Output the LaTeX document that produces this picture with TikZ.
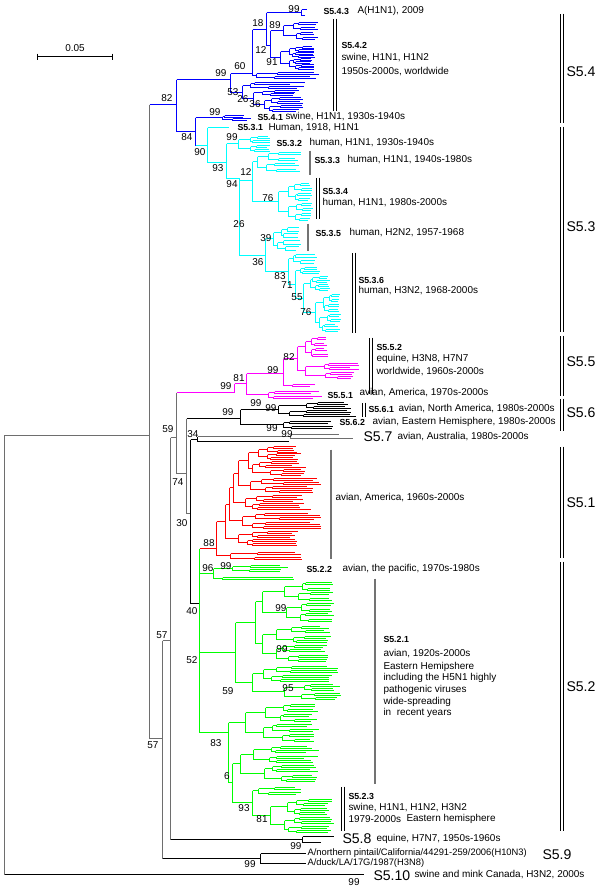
\documentclass[tikz,border=0pt]{standalone}
\usepackage{fontspec}
\setmainfont{Liberation Sans}
\usetikzlibrary{positioning}
\definecolor{trunk}{RGB}{110,110,110}
\definecolor{barg}{RGB}{115,115,115}
\definecolor{s54}{RGB}{0,0,255}
\definecolor{s53}{RGB}{0,255,255}
\definecolor{s55}{RGB}{255,0,255}
\definecolor{s51}{RGB}{255,0,0}
\definecolor{s52}{RGB}{0,255,0}

% clade segments are collected in \cladepath and drawn in one go
\newcommand{\addseg}[4]{\xdef\cladepath{\cladepath (#1,#2) -- (#3,#4)}}
% clade: x, centre y, half height, depth, tip x
\newcommand{\clade}[5]{%
  \begingroup
  \ifnum#4>0
    \pgfmathsetmacro\cA{round(#2-#3/2)}%
    \pgfmathsetmacro\cB{round(#2+#3/2)}%
    \pgfmathsetmacro\xA{round(#1+(#5-#1)*(0.08+0.3*rnd))}%
    \pgfmathsetmacro\xB{round(#1+(#5-#1)*(0.08+0.3*rnd))}%
    \pgfmathsetmacro\hh{#3/2}%
    \pgfmathtruncatemacro\dd{#4-1}%
    \addseg{#1}{\cA}{#1}{\cB}\addseg{#1}{\cA}{\xA}{\cA}\addseg{#1}{\cB}{\xB}{\cB}%
    \edef\cladeA{\noexpand\clade{\xA}{\cA}{\hh}{\dd}{#5}}%
    \edef\cladeB{\noexpand\clade{\xB}{\cB}{\hh}{\dd}{#5}}%
    \cladeA\cladeB
  \else
    \pgfmathsetmacro\xE{round(#5-(#5-#1)*0.45*rnd)}%
    \addseg{#1}{#2}{\xE}{#2}%
  \fi
  \endgroup}

\begin{document}
\begin{tikzpicture}[
  x=0.3mm, y=-0.3mm, line width=0.3mm,
  hue/.style={draw=#1, line width=0.42mm},
  lab/.style={font=\fontsize{8.5}{10}\selectfont, anchor=west, inner sep=0pt},
  tag/.style={font=\bfseries\fontsize{7.5}{9}\selectfont, anchor=west, inner sep=0pt},
  big/.style={font=\fontsize{12}{14}\selectfont, anchor=west, inner sep=0pt},
  bs/.style={font=\fontsize{8.5}{10}\selectfont, inner sep=0pt},
  bar/.style={draw=black, double=white, double distance=0.6mm, line width=0.3mm},
  gbar/.style={draw=barg, line width=0.6mm}
]
\useasboundingbox (0,0) rectangle (600,890);
\pgfmathsetseed{11}

\begin{scope}[shift={(0.5,0.5)}]
% scale
\draw[black] (37,56) -- (112,56) (37,53) -- (37,59) (112,53) -- (112,59);

% trunk
\draw[trunk] (4,874) -- (4,435) -- (149,435)
  (149,104) -- (149,738) -- (162,738)
  (162,640) -- (162,858) (162,640) -- (170,640)
  (170,437) -- (170,839) (170,437) -- (176,437)
  (176,392) -- (176,473) -- (186,473)
  (186,418) -- (186,513) -- (190,513)
  (197,436) -- (290,436) (290,434) -- (290,438) (290,434) -- (338,434) (290,438) -- (352,438);

% S5.4
\gdef\cladepath{}
\clade{283}{30}{10}{3}{318}
\clade{280}{57}{12}{4}{314}
\clade{256}{75}{4}{2}{322}
\clade{250}{85}{4}{2}{305}
\clade{262}{92}{3}{2}{300}
\clade{264}{104}{8}{3}{306}
\clade{222}{117}{3}{2}{252}
\draw[hue=s54] (149,104) -- (176,104) (176,79) -- (176,131)
  (176,79) -- (230,79) (230,73) -- (230,92)
  (230,73) -- (252,73) (252,29) -- (252,75)
  (252,29) -- (266,29) (266,12) -- (266,45)
  (266,12) -- (301,12) (301,9) -- (301,15) (301,9) -- (306,9) (301,15) -- (304,15)
  (266,45) -- (270,45) (270,30) -- (270,57)
  (270,30) -- (283,30) (270,57) -- (280,57) (252,75) -- (256,75)
  (230,92) -- (242,92) (242,85) -- (242,98) (242,85) -- (250,85)
  (242,98) -- (253,98) (253,92) -- (253,104) (253,92) -- (262,92) (253,104) -- (264,104)
  (176,131) -- (195,131) (195,117) -- (195,145) (195,117) -- (222,117)
  \cladepath;

% S5.3
\gdef\cladepath{}
\clade{238}{143}{9}{3}{270}
\clade{257}{161}{11}{3}{300}
\clade{278}{201}{20}{4}{312}
\clade{273}{238}{13}{3}{300}
\clade{293}{258}{6}{2}{318}
\clade{300}{270}{4}{2}{320}
\clade{310}{283}{8}{3}{330}
\clade{315}{312}{20}{4}{340}
\draw[hue=s53] (195,145) -- (207,145) (207,127) -- (207,162) (207,127) -- (228,127)
  (207,162) -- (226,162) (226,143) -- (226,178) (226,143) -- (238,143)
  (226,178) -- (239,178) -- (239,255)
  (239,180) -- (252,180) (252,161) -- (252,201) (252,161) -- (257,161) (252,201) -- (278,201)
  (239,255) -- (265,255) (265,238) -- (265,271) (265,238) -- (273,238)
  (265,271) -- (288,271) (288,258) -- (288,284) (288,258) -- (293,258)
  (288,284) -- (295,284) (295,270) -- (295,298) (295,270) -- (300,270)
  (295,298) -- (303,298) (303,283) -- (303,312) (303,283) -- (310,283) (303,312) -- (315,312)
  \cladepath;

% S5.5
\gdef\cladepath{}
\clade{268}{394}{5}{2}{322}
\clade{292}{385}{2}{1}{315}
\clade{305}{346}{11}{3}{327}
\clade{305}{370}{9}{3}{358}
\draw[hue=s55] (176,392) -- (234,392) (234,383) -- (234,392)
  (234,383) -- (246,383) (246,373) -- (246,394) (246,394) -- (268,394)
  (246,373) -- (283,373) (283,358) -- (283,385) (283,385) -- (292,385)
  (283,358) -- (297,358) (297,346) -- (297,370) (297,346) -- (305,346) (297,370) -- (305,370)
  \cladepath;

% S5.6, S5.7
\gdef\cladepath{}
\clade{278}{409}{8}{3}{355}
\clade{283}{424}{5}{2}{335}
\draw[black] (190,439) -- (190,603) -- (199,603)
  (186,418) -- (240,418) (240,409) -- (240,424)
  (240,409) -- (278,409) (240,424) -- (283,424)
  (190,439) -- (197,439) (197,436) -- (197,441) (197,441) -- (288,441)
  \cladepath;

% S5.1
\gdef\cladepath{}
\clade{230}{555}{5}{2}{310}
\clade{238}{538}{8}{3}{300}
\clade{242}{520}{9}{3}{320}
\clade{245}{502}{8}{3}{310}
\clade{250}{485}{8}{3}{320}
\clade{258}{452}{7}{3}{300}
\clade{252}{468}{8}{3}{305}
\draw[hue=s51] (199,548) -- (216,548) (216,521) -- (216,555) (216,555) -- (230,555)
  (216,521) -- (225,521) (225,504) -- (225,538) (225,538) -- (238,538)
  (225,504) -- (229,504) (229,487) -- (229,520) (229,520) -- (242,520)
  (229,487) -- (233,487) (233,473) -- (233,502) (233,502) -- (245,502)
  (233,473) -- (238,473) (238,460) -- (238,485) (238,485) -- (250,485)
  (238,460) -- (248,460) (248,452) -- (248,468) (248,452) -- (258,452) (248,468) -- (252,468)
  \cladepath;

% S5.2
\gdef\cladepath{}
\clade{232}{568}{4}{2}{290}
\clade{222}{578}{2}{1}{298}
\clade{262}{601}{21}{4}{335}
\clade{262}{643}{19}{4}{330}
\clade{252}{682}{18}{4}{340}
\clade{245}{722}{20}{4}{318}
\clade{240}{763}{19}{4}{318}
\clade{258}{790}{5}{2}{300}
\clade{270}{815}{18}{4}{335}
\draw[hue=s52] (199,548) -- (199,732)
  (199,573) -- (213,573) (213,568) -- (213,578) (213,568) -- (232,568) (213,578) -- (222,578)
  (199,652) -- (235,652) (235,622) -- (235,682)
  (235,622) -- (255,622) (255,601) -- (255,643) (255,601) -- (262,601) (255,643) -- (262,643)
  (235,682) -- (252,682)
  (199,732) -- (228,732) (228,722) -- (228,782) (228,722) -- (245,722)
  (228,782) -- (232,782) (232,763) -- (232,802) (232,763) -- (240,763)
  (232,802) -- (252,802) (252,790) -- (252,815) (252,790) -- (258,790) (252,815) -- (270,815)
  \cladepath;

% S5.8, S5.9, S5.10
\draw[black] (170,839) -- (302,839) (302,836) -- (302,842) (302,836) -- (333,836) (302,842) -- (320,842)
  (162,858) -- (260,858) (260,853) -- (260,863) (260,853) -- (305,853) (260,863) -- (305,863)
  (4,874) -- (363,874);

% bars
\draw[bar] (561,13) -- (561,122);
\draw[bar] (561,126) -- (561,331);
\draw[bar] (561,335) -- (561,395);
\draw[bar] (561,398) -- (561,430);
\draw[bar] (561,446) -- (561,557);
\draw[bar] (561,561) -- (561,830);
\draw[bar] (334,18) -- (334,110);
\draw[gbar] (309,150) -- (309,174);
\draw[bar] (317,177) -- (317,218);
\draw[gbar] (307,223) -- (307,250);
\draw[bar] (353,252) -- (353,332);
\draw[bar] (370,337) -- (370,393);
\draw[bar] (363,402) -- (363,416);
\draw[gbar] (330,449) -- (330,558);
\draw[gbar] (374,578) -- (374,783);
\draw[bar] (342,786) -- (342,830);
\end{scope}

% clade texts
\node[bs] (scale) at (75,48) {0.05};
\node[tag] (t543) at (323,11) {S5.4.3};
\node[lab] (d543) at (357,11) {A(H1N1), 2009};
\node[tag] (t542) at (341,45) {S5.4.2};
\node[lab] (d542a) at (341,58) {swine, H1N1, H1N2};
\node[lab] (d542b) at (341,72) {1950s-2000s, worldwide};
\node[big] (c54) at (566,72) {S5.4};
\node[tag] (t541) at (257,117) {S5.4.1};
\node[lab] (d541) at (285,117) {swine, H1N1, 1930s-1940s};
\node[tag] (t531) at (237,127) {S5.3.1};
\node[lab] (d531) at (268,128) {Human, 1918, H1N1};
\node[tag] (t532) at (276,143) {S5.3.2};
\node[lab] (d532) at (309,143) {human, H1N1, 1930s-1940s};
\node[tag] (t533) at (314,160) {S5.3.3};
\node[lab] (d533) at (347,160) {human, H1N1, 1940s-1980s};
\node[tag] (t534) at (322,191) {S5.3.4};
\node[lab] (d534) at (322,203) {human, H1N1, 1980s-2000s};
\node[tag] (t535) at (315,233) {S5.3.5};
\node[lab] (d535) at (349,233) {human, H2N2, 1957-1968};
\node[tag] (t536) at (358,280) {S5.3.6};
\node[lab] (d536) at (358,291) {human, H3N2, 1968-2000s};
\node[big] (c53) at (566,227) {S5.3};
\node[tag] (t552) at (376,347) {S5.5.2};
\node[lab] (d552a) at (376,359) {equine, H3N8, H7N7};
\node[lab] (d552b) at (376,372) {worldwide, 1960s-2000s};
\node[tag] (t551) at (327,395) {S5.5.1};
\node[lab] (d551) at (359,393) {avian, America, 1970s-2000s};
\node[big] (c55) at (566,362) {S5.5};
\node[tag] (t561) at (368,409) {S5.6.1};
\node[lab] (d561) at (398,409) {avian, North America, 1980s-2000s};
\node[tag] (t562) at (339,422) {S5.6.2};
\node[lab] (d562) at (372,422) {avian, Eastern Hemisphere, 1980s-2000s};
\node[big] (c56) at (566,413) {S5.6};
\node[big] (c57) at (363,437) {S5.7};
\node[lab] (d57) at (397,437) {avian, Australia, 1980s-2000s};
\node[lab] (d51) at (335,498) {avian, America, 1960s-2000s};
\node[big] (c51) at (566,503) {S5.1};
\node[tag] (t522) at (306,569) {S5.2.2};
\node[lab] (d522) at (342,569) {avian, the pacific, 1970s-1980s};
\node[tag] (t521) at (383,639) {S5.2.1};
\node[lab] (d521a) at (383,654) {avian, 1920s-2000s};
\node[lab] (d521b) at (383,667) {Eastern Hemipshere};
\node[lab] (d521c) at (383,678) {including the H5N1 highly};
\node[lab] (d521d) at (383,690) {pathogenic viruses};
\node[lab] (d521e) at (383,702) {wide-spreading};
\node[lab] (d521f) at (383,713) {in~ recent years};
\node[big] (c52) at (566,687) {S5.2};
\node[tag] (t523) at (348,796) {S5.2.3};
\node[lab] (d523a) at (348,808) {swine, H1N1, H1N2, H3N2};
\node[lab] (d523b) at (348,819) {1979-2000s};
\node[lab] (d523c) at (406,819) {Eastern hemisphere};
\node[big] (c58) at (342,839) {S5.8};
\node[lab] (d58) at (376,839) {equine, H7N7, 1950s-1960s};
\node[lab, font=\fontsize{8}{9}\selectfont] (s59a) at (307,853) {A/northern pintail/California/44291-259/2006(H10N3)};
\node[lab, font=\fontsize{8}{9}\selectfont] (s59b) at (307,863) {A/duck/LA/17G/1987(H3N8)};
\node[big] (c59) at (542,855) {S5.9};
\node[big] (c510) at (373,876) {S5.10};
\node[lab] (d510) at (414,875) {swine and mink Canada, H3N2, 2000s};

% bootstrap values
\node[bs] (b82) at (167,98) {82};
\node[bs] (b99a) at (221,73) {99};
\node[bs] (b60) at (240,66) {60};
\node[bs] (b18) at (258,23) {18};
\node[bs] (b99b) at (294,9) {99};
\node[bs] (b89) at (275,25) {89};
\node[bs] (b12a) at (261,50) {12};
\node[bs] (b91) at (272,62) {91};
\node[bs] (b53) at (233,92) {53};
\node[bs] (b26a) at (243,99) {26};
\node[bs] (b36a) at (255,104) {36};
\node[bs] (b84) at (187,137) {84};
\node[bs] (b99c) at (215,112) {99};
\node[bs] (b90) at (200,152) {90};
\node[bs] (b93a) at (218,168) {93};
\node[bs] (b99d) at (232,137) {99};
\node[bs] (b94) at (232,184) {94};
\node[bs] (b12b) at (246,172) {12};
\node[bs] (b76a) at (268,198) {76};
\node[bs] (b26b) at (239,224) {26};
\node[bs] (b39) at (266,238) {39};
\node[bs] (b36b) at (258,262) {36};
\node[bs] (b83a) at (280,276) {83};
\node[bs] (b71) at (287,285) {71};
\node[bs] (b55) at (297,297) {55};
\node[bs] (b76b) at (306,312) {76};
\node[bs] (b99e) at (226,386) {99};
\node[bs] (b81a) at (239,378) {81};
\node[bs] (b99f) at (273,370) {99};
\node[bs] (b82b) at (289,357) {82};
\node[bs] (b59a) at (168,429) {59};
\node[bs] (b99g) at (228,412) {99};
\node[bs] (b99h) at (256,403) {99};
\node[bs] (b99i) at (271,408) {99};
\node[bs] (b74) at (178,482) {74};
\node[bs] (b34) at (193,434) {34};
\node[bs] (b99j) at (272,428) {99};
\node[bs] (b99k) at (287,434) {99};
\node[bs] (b30) at (182,523) {30};
\node[bs] (b88) at (209,543) {88};
\node[bs] (b96) at (208,568) {96};
\node[bs] (b99l) at (226,566) {99};
\node[bs] (b40) at (192,611) {40};
\node[bs] (b52) at (192,660) {52};
\node[bs] (b57a) at (162,635) {57};
\node[bs] (b57b) at (153,745) {57};
\node[bs] (b99m) at (281,608) {99};
\node[bs] (b99n) at (282,649) {99};
\node[bs] (b59b) at (228,691) {59};
\node[bs] (b95) at (288,688) {95};
\node[bs] (b83b) at (216,743) {83};
\node[bs] (b6) at (227,776) {6};
\node[bs] (b93b) at (244,808) {93};
\node[bs] (b81b) at (262,819) {81};
\node[bs] (b99o) at (296,846) {99};
\node[bs] (b99p) at (250,864) {99};
\node[bs] (b99q) at (354,882) {99};
\end{tikzpicture}
\end{document}
